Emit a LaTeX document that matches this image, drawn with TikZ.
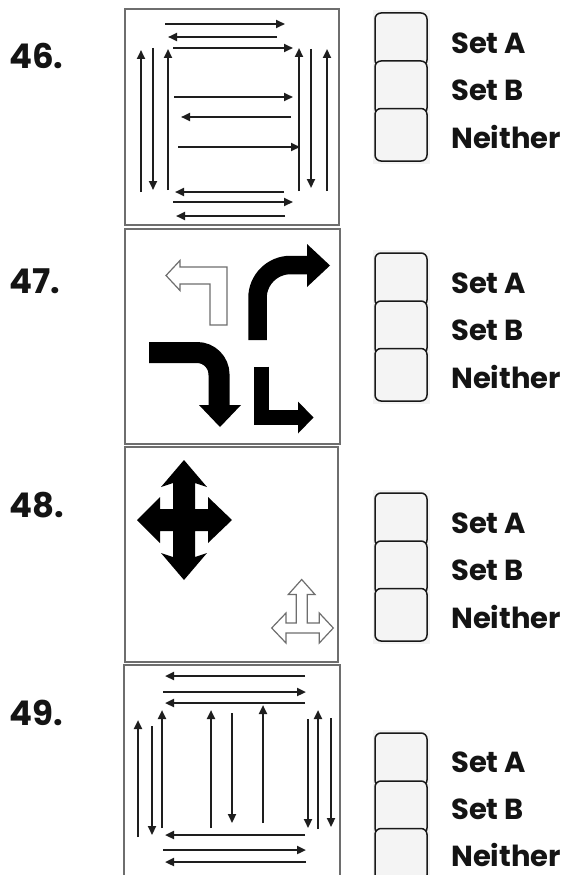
\documentclass[tikz,border=0pt]{standalone}
\usepackage{fontspec}
\setmainfont{Poppins}
\usetikzlibrary{arrows.meta}
\definecolor{ink}{HTML}{1E1E1E}
\definecolor{frame}{HTML}{6E6E6E}
\definecolor{boxfill}{HTML}{F4F4F4}
\tikzset{
  arr/.style={draw=ink, line width=2.2pt, -{Triangle[length=9pt,width=8pt]}},
  panel/.style={draw=frame, line width=1.5pt},
  chk/.style={draw=black!90, line width=1.5pt, fill=boxfill, rounded corners=6pt},
  lbl/.style={anchor=base west, inner sep=0pt, font=\fontsize{29}{32}\selectfont\bfseries, text=black!92},
  num/.style={anchor=base west, inner sep=0pt, font=\fontsize{34}{38}\selectfont\bfseries, text=black!92},
  blk/.style={fill=black, draw=none},
  outl/.style={fill=white, draw=frame, line width=1.2pt, line join=miter},
}
\begin{document}
\begin{tikzpicture}[x=1pt,y=-1pt]
\useasboundingbox (0,0) rectangle (572,875);
\fill[white] (0,0) rectangle (572,875);
\clip (0,0) rectangle (572,875);

% ---------- number labels ----------
\node[num] (n46) at (9,68) {46.};
\node[num] (n47) at (9,293) {47.};
\node[num] (n48) at (9,517) {48.};
\node[num] (n49) at (9,725) {49.};

% ---------- panels ----------
\draw[panel] (125,9) rectangle (339,225);
\draw[panel] (125,229) rectangle (340,444);
\draw[panel] (125,447) rectangle (338,662);
\draw[panel] (124,885) -- (124,665) -- (340,665) -- (340,885);

% ---------- panel 46 ----------
\draw[arr] (165,24) -- (285,24);
\draw[arr] (277,37) -- (168,37);
\draw[arr] (173,48) -- (293,48);
\draw[arr] (174,97) -- (293,97);
\draw[arr] (291,117) -- (181,117);
\draw[arr] (178,147) -- (300,147);
\draw[arr] (284,192) -- (175,192);
\draw[arr] (173,202) -- (293,202);
\draw[arr] (285,216) -- (176,216);
\draw[arr] (141,192) -- (141,50);
\draw[arr] (153,48) -- (153,190);
\draw[arr] (168,190) -- (168,49);
\draw[arr] (299,191) -- (299,48);
\draw[arr] (311,49) -- (311,188);
\draw[arr] (327,191) -- (327,49);

% ---------- panel 47 ----------
\draw[outl] (166,275.5) -- (180,260.5) -- (180,267) -- (227,267) -- (227,325)
  -- (210,325) -- (210,284) -- (180,284) -- (180,290.5) -- cycle;
\draw[draw=black, line width=18.5pt, rounded corners=33pt] (257.5,340) -- (257.5,265) -- (309,265);
\fill[blk] (307,244) -- (330,265.5) -- (307,287) -- cycle;
\draw[draw=black, line width=21pt, rounded corners=22pt] (149,352.5) -- (219,352.5) -- (219,406);
\fill[blk] (199,405) -- (241,405) -- (220,427) -- cycle;
\draw[draw=black, line width=15pt, line join=miter] (261,366.5) -- (261,417.5) -- (299,417.5);
\fill[blk] (298,401.5) -- (313.5,417.5) -- (298,433.5) -- cycle;

% ---------- panel 48 ----------
\fill[blk] (184,460) -- (207,487) -- (195,483) -- (195,509) -- (208,509) -- (208,497)
  -- (232,520) -- (208,543) -- (208,531) -- (195,531) -- (195,557) -- (207,553)
  -- (184,580) -- (161,553) -- (173,557) -- (173,531) -- (160,531) -- (160,543)
  -- (137,520) -- (160,497) -- (160,509) -- (173,509) -- (173,483) -- (161,487) -- cycle;
\draw[outl] (301.7,579.5) -- (315,594.5) -- (307.2,594.5) -- (307.2,623) -- (319.3,623)
  -- (319.3,613) -- (333.3,628) -- (319.3,643) -- (319.3,633) -- (286,633) -- (286,643)
  -- (271.7,628) -- (286,613) -- (286,623) -- (296.2,623) -- (296.2,594.5) -- (288.3,594.5) -- cycle;

% ---------- panel 49 ----------
\draw[arr] (305,676) -- (165,676);
\draw[arr] (163,692) -- (306,692);
\draw[arr] (305,703) -- (165,703);
\draw[arr] (305,835) -- (165,835);
\draw[arr] (163,850) -- (306,850);
\draw[arr] (306,862) -- (165,862);
\draw[arr] (138,837) -- (138,720);
\draw[arr] (152,726) -- (152,835);
\draw[arr] (162,828) -- (162,710);
\draw[arr] (211,828) -- (211,710);
\draw[arr] (232,713) -- (232,823);
\draw[arr] (263,823) -- (263,705);
\draw[arr] (308,719) -- (308,828);
\draw[arr] (318,829) -- (318,710);
\draw[arr] (331,718) -- (331,827);

% ---------- checkboxes and labels ----------
\foreach \t in {13,253,493,733}{
  \fill[boxfill] (373,\t-3) rectangle (430,\t+151);
  \draw[chk] (375,\t) rectangle (427,\t+53);
  \draw[chk] (375,\t+48) rectangle (427,\t+101);
  \draw[chk] (375,\t+95.5) rectangle (427,\t+148);
}
\node[lbl] (a46) at (451,53) {Set A};
\node[lbl] (b46) at (451,100.5) {Set B};
\node[lbl] (c46) at (451,148) {Neither};
\node[lbl] (a47) at (451,293) {Set A};
\node[lbl] (b47) at (451,340.5) {Set B};
\node[lbl] (c47) at (451,388) {Neither};
\node[lbl] (a48) at (451,533) {Set A};
\node[lbl] (b48) at (451,580.5) {Set B};
\node[lbl] (c48) at (451,628) {Neither};
\node[lbl] (a49) at (451,772) {Set A};
\node[lbl] (b49) at (451,819) {Set B};
\node[lbl] (c49) at (451,866) {Neither};
\end{tikzpicture}
\end{document}
